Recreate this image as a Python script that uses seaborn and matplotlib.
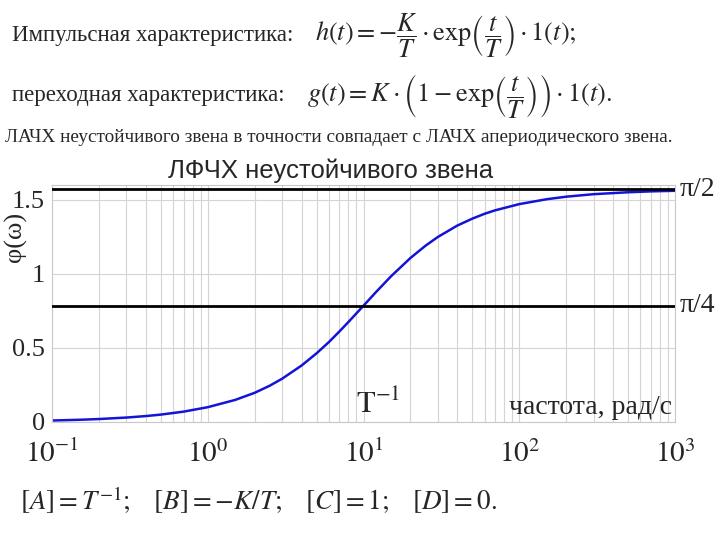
import numpy as np
import matplotlib
matplotlib.use('Agg')
import matplotlib.pyplot as plt
import seaborn as sns

# values (phase of the unstable first-order link)
omega = [0.1, 0.15, 0.2, 0.3, 0.4, 0.5, 0.7, 1, 1.5, 2, 2.5, 3, 4, 5, 6, 7,
         8, 10, 12, 15, 20, 25, 30, 40, 50, 60, 70, 100, 150, 200, 300, 500,
         700, 1000]
phi = [0.010, 0.015, 0.020, 0.030, 0.040, 0.050, 0.070, 0.100, 0.149, 0.197,
       0.245, 0.292, 0.381, 0.464, 0.540, 0.611, 0.675, 0.785, 0.876, 0.983,
       1.107, 1.190, 1.249, 1.326, 1.373, 1.406, 1.429, 1.471, 1.504, 1.521,
       1.538, 1.551, 1.557, 1.561]

ref_levels = [np.pi / 2, np.pi / 4]
ref_labels = ['π/2', 'π/4']

y_ticks = [0, 0.5, 1, 1.5]
y_tick_labels = ['0', '0.5', '1', '1.5']
x_ticks = [0.1, 1, 10, 100, 1000]
x_tick_labels = ['$10^{-1}$', '$10^{0}$', '$10^{1}$', '$10^{2}$', '$10^{3}$']

sns.set_style('white')
plt.rcParams['font.family'] = ['Liberation Serif', 'DejaVu Serif']
plt.rcParams['mathtext.fontset'] = 'stix'

fig = plt.figure(figsize=(7.2, 5.4), dpi=100)
ax = fig.add_axes([52 / 720, 1 - 422 / 540, 623 / 720, 237 / 540])

ax.set_xscale('log')
sns.lineplot(x=omega, y=phi, ax=ax, color='#1414d8', lw=1.8)

for lvl, lab in zip(ref_levels, ref_labels):
    ax.axhline(lvl, color='black', lw=2, zorder=3)
    ax.text(1.008, lvl, lab, transform=ax.get_yaxis_transform(),
            fontsize=20, va='center', ha='left')

ax.set_xlim(0.1, 1000)
ax.set_ylim(0, 1.6)
ax.set_xticks(x_ticks)
ax.set_xticklabels(x_tick_labels, fontsize=21)
ax.set_yticks(y_ticks)
ax.set_yticklabels(y_tick_labels, fontsize=19)
ax.tick_params(axis='both', which='both', length=0)
ax.tick_params(axis='x', pad=13)
ax.tick_params(axis='y', pad=5)
ax.grid(True, which='major', axis='both', color='#d4d4d4', lw=0.8)
ax.grid(True, which='minor', axis='x', color='#d4d4d4', lw=0.8)
for sp in ax.spines.values():
    sp.set_color('#c8c8c8')
    sp.set_linewidth(0.8)

ax.text(-0.058, 0.78, 'φ(ω)', transform=ax.transAxes, rotation=90,
        fontsize=19, ha='center', va='center')
ax.text(12.4, 0.015, '$\\mathrm{T}^{-1}$', fontsize=22, ha='center', va='bottom')
ax.text(0.995, 0.01, 'частота, рад/с', transform=ax.transAxes,
        fontsize=20, ha='right', va='bottom')
fig.text(331 / 720, 1 - 171 / 540, 'ЛФЧХ неустойчивого звена',
         family=['Liberation Sans', 'DejaVu Sans'], fontsize=18.5,
         ha='center', va='center')

# slide text above and below the chart
fig.text(12 / 720, 1 - 35 / 540, 'Импульсная характеристика:', fontsize=16.5,
         ha='left', va='center')
fig.text(315 / 720, 1 - 36 / 540,
         r'$h\left(t\right) = -\dfrac{K}{T}\cdot \mathrm{exp}\left(\dfrac{t}{T}\right)\cdot 1\left(t\right);$',
         fontsize=19, ha='left', va='center')
fig.text(12 / 720, 1 - 95 / 540, 'переходная характеристика:', fontsize=16.5,
         ha='left', va='center')
fig.text(307 / 720, 1 - 96 / 540,
         r'$g\left(t\right) = K\cdot \left(1 - \mathrm{exp}\left(\dfrac{t}{T}\right)\right)\cdot 1\left(t\right).$',
         fontsize=19, ha='left', va='center')
fig.text(5 / 720, 1 - 138 / 540,
         'ЛАЧХ неустойчивого звена в точности совпадает с ЛАЧХ апериодического звена.',
         fontsize=13.9, ha='left', va='center')
fig.text(20 / 720, 1 - 500 / 540,
         r'$\left[A\right] = T^{-1};\quad \left[B\right] = -K/T;\quad \left[C\right] = 1;\quad \left[D\right] = 0.$',
         fontsize=19.5, ha='left', va='center')

fig.savefig('out.png', dpi=100)
